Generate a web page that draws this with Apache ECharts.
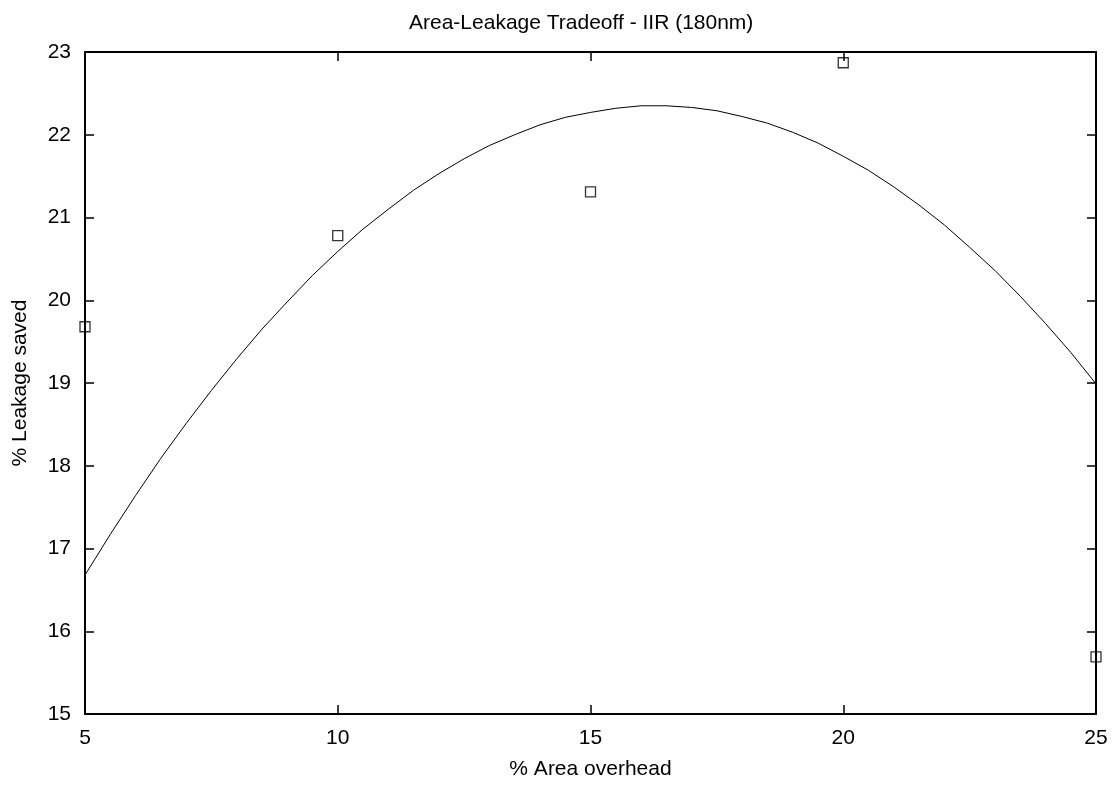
<!DOCTYPE html>
<html>
<head>
<meta charset="utf-8">
<script src="https://cdn.jsdelivr.net/npm/echarts@6/dist/echarts.min.js"></script>
<style>html,body{margin:0;padding:0;background:#fff}#c{width:1117px;height:785px}</style>
</head>
<body>
<div id="c"></div>
<script>
const titleText = 'Area-Leakage Tradeoff - IIR (180nm)';
const xName = '% Area overhead';
const yName = '% Leakage saved';
const pointX = [5, 10, 15, 20, 25];
const pointY = [19.68, 20.78, 21.31, 22.87, 15.69];
const curveX = [5,5.5,6,6.5,7,7.5,8,8.5,9,9.5,10,10.5,11,11.5,12,12.5,13,13.5,14,14.5,15,15.5,16,16.5,17,17.5,18,18.5,19,19.5,20,20.5,21,21.5,22,22.5,23,23.5,24,24.5,25];
const curveY = [16.68,17.17,17.64,18.09,18.51,18.91,19.29,19.65,19.98,20.30,20.59,20.86,21.10,21.33,21.53,21.71,21.87,22.00,22.12,22.21,22.27,22.32,22.35,22.35,22.33,22.29,22.22,22.14,22.03,21.90,21.74,21.57,21.37,21.15,20.91,20.64,20.36,20.05,19.72,19.37,18.99];
const xTicks = {min: 5, max: 25, interval: 5};
const yTicks = {min: 15, max: 23, interval: 1};

const FONT = 'Liberation Sans, Arial, Helvetica, sans-serif';
const chart = echarts.init(document.getElementById('c'), null, {renderer: 'canvas'});
const axisLine = {show: true, onZero: false, lineStyle: {color: '#000', width: 2}};
const tick = {show: true, inside: true, length: 9, lineStyle: {color: '#000', width: 1.5}};
const lbl = {color: '#000', fontSize: 21, fontFamily: FONT};
chart.setOption({
  animation: false,
  backgroundColor: '#fff',
  title: {
    text: titleText, left: 404, top: 8,
    textStyle: {color: '#000', fontSize: 21, fontWeight: 'normal', fontFamily: FONT}
  },
  grid: {left: 85, right: 21, top: 52, bottom: 70},
  xAxis: [
    {type: 'value', min: xTicks.min, max: xTicks.max, interval: xTicks.interval,
     name: xName, nameLocation: 'middle', nameGap: 45,
     nameTextStyle: {color: '#000', fontSize: 21, fontFamily: FONT},
     axisLine: axisLine, axisTick: tick, splitLine: {show: false},
     axisLabel: Object.assign({margin: 14}, lbl)},
    {type: 'value', position: 'top', min: xTicks.min, max: xTicks.max, interval: xTicks.interval,
     axisLine: axisLine, axisTick: tick, splitLine: {show: false}, axisLabel: {show: false}}
  ],
  yAxis: [
    {type: 'value', min: yTicks.min, max: yTicks.max, interval: yTicks.interval,
     name: yName, nameLocation: 'middle', nameGap: 54,
     nameTextStyle: {color: '#000', fontSize: 21, fontFamily: FONT},
     axisLine: axisLine, axisTick: tick, splitLine: {show: false},
     axisLabel: Object.assign({margin: 14}, lbl)},
    {type: 'value', position: 'right', min: yTicks.min, max: yTicks.max, interval: yTicks.interval,
     axisLine: axisLine, axisTick: tick, splitLine: {show: false}, axisLabel: {show: false}}
  ],
  series: [
    {type: 'line', data: curveX.map((x, i) => [x, curveY[i]]), smooth: false,
     showSymbol: false, symbol: 'none', lineStyle: {color: '#000', width: 1}, z: 2},
    {type: 'scatter', data: pointX.map((x, i) => [x, pointY[i]]), symbol: 'rect', symbolSize: 10,
     clip: false,
     itemStyle: {color: 'rgba(0,0,0,0)', borderColor: '#000', borderWidth: 1.3}, z: 3}
  ]
});
</script>
</body>
</html>
